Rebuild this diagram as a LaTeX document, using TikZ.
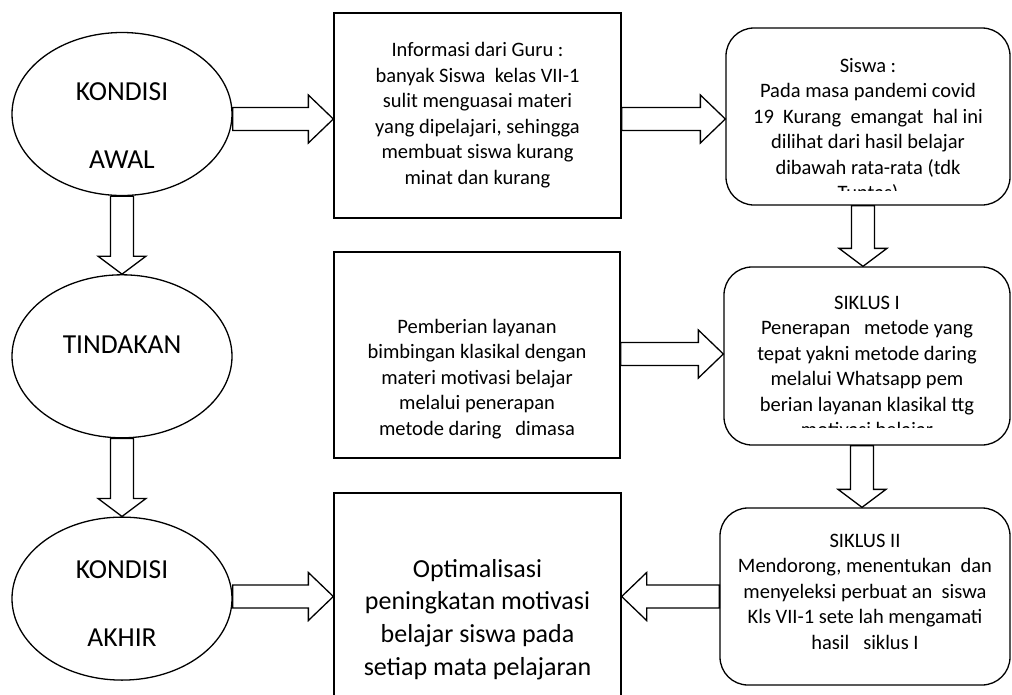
\documentclass[tikz,border=0pt]{standalone}
\usepackage{fontspec}
\setmainfont{Carlito}
\usetikzlibrary{positioning,calc,shapes.geometric}
\tikzset{%
  stage/.style={
    ellipse,
    draw,
    line width=1.3pt,
    minimum width=220pt,
    minimum height=163pt,
    inner sep=0pt
  },
  infobox/.style={rectangle, draw, line width=1.3pt, inner sep=0pt},
  cyclebox/.style={rectangle, rounded corners=28pt, draw, line width=1.3pt, inner sep=0pt},
  stagetext/.style={align=center, inner sep=0pt, font=\fontsize{27.5}{34}\selectfont},
  boxtext/.style={align=center, inner sep=0pt, font=\fontsize{20.5}{25.5}\selectfont},
  bigtext/.style={align=center, inner sep=0pt, font=\fontsize{26}{32.7}\selectfont},
  fatarrow/.style={draw, fill=white, line width=1.3pt, line join=miter},
}
% hollow block arrows, horizontal and vertical
\newcommand{\harrow}[2]{%
  \draw[fatarrow] let \p1=(#1), \p2=(#2), \n1={sign(\x2-\x1)*25pt} in
    ({\x1},{\y2+11.5pt}) -- ({\x2-1*\n1},{\y2+11.5pt}) -- ({\x2-1*\n1},{\y2+24pt}) -- (\p2)
    -- ({\x2-1*\n1},{\y2-24pt}) -- ({\x2-1*\n1},{\y2-11.5pt}) -- ({\x1},{\y2-11.5pt}) -- cycle;}
\newcommand{\varrow}[2]{%
  \draw[fatarrow] let \p1=(#1), \p2=(#2), \n1={sign(\y2-\y1)*18pt} in
    ({\x2-11.5pt},{\y1}) -- ({\x2-11.5pt},{\y2-1*\n1}) -- ({\x2-24pt},{\y2-1*\n1}) -- (\p2)
    -- ({\x2+24pt},{\y2-1*\n1}) -- ({\x2+11.5pt},{\y2-1*\n1}) -- ({\x2+11.5pt},{\y1}) -- cycle;}

\begin{document}
\begin{tikzpicture}[x=1pt,y=1pt,node distance=78pt]
  \useasboundingbox (0,0) rectangle (1012,-694);

  % left column
  \node[stage] (awal) at (122,-114) {};
  \node[stage,below=of awal] (tindakan) {};
  \node[stage,below=of tindakan] (akhir) {};

  \node[stagetext] (awaltxt) at ($(awal)+(0,-12)$) {KONDISI\\[34pt]AWAL};
  \node[stagetext] (tindakantxt) at ($(tindakan)+(0,12)$) {TINDAKAN};
  \node[stagetext] (akhirtxt) at ($(akhir)+(0,-5)$) {KONDISI\\[34pt]AKHIR};

  % middle column
  \node[infobox,minimum width=287pt,minimum height=205pt] (info) at (477.5,-115.5) {};
  \node[infobox,minimum width=286pt,minimum height=206pt] (pemberian) at (477,-355) {};
  \node[infobox,minimum width=287pt,minimum height=207pt] (optimal) at (477.5,-596.5) {};

  \node[boxtext] (infotxt) at ($(info)+(0,0.5)$) {Informasi dari Guru :\\
    banyak Siswa~ kelas VII-1\\ sulit menguasai materi\\ yang dipelajari, sehingga\\
    membuat siswa kurang\\ minat dan kurang};
  \node[boxtext] (pemberiantxt) at ($(pemberian)+(0,-24)$) {Pemberian layanan\\
    bimbingan klasikal dengan\\ materi motivasi belajar\\ melalui penerapan\\
    metode daring~~ dimasa};
  \node[bigtext] (optimaltxt) at ($(optimal)+(0,-23)$) {Optimalisasi\\
    peningkatan motivasi\\ belajar siswa pada\\ setiap mata pelajaran};

  % right column
  \node[cyclebox,minimum width=284pt,minimum height=177pt] (siswa) at (868,-116.5) {};
  \node[cyclebox,minimum width=286pt,minimum height=178pt] (siklus1) at (867,-356) {};
  \node[cyclebox,minimum width=290pt,minimum height=177pt] (siklus2) at (865,-596.5) {};

  \begin{scope}
    \clip (siswa.north west) rectangle ($(siswa.south east)+(0,15)$);
    \node[boxtext] (siswatxt) at ($(siswa)+(0,-14)$) {Siswa :\\
      Pada masa pandemi covid\\ 19~ Kurang~ emangat~ hal ini\\
      dilihat dari hasil belajar\\ dibawah rata-rata (tdk\\ Tuntas)};
  \end{scope}
  \begin{scope}
    \clip (siklus1.north west) rectangle ($(siklus1.south east)+(0,18)$);
    \node[boxtext] (siklus1txt) at ($(siklus1)+(0,-12)$) {SIKLUS I\\
      Penerapan~~ metode yang\\ tepat yakni metode daring\\
      melalui Whatsapp pem\\ berian layanan klasikal ttg\\ motivasi belajar};
  \end{scope}
  \node[boxtext] (siklus2txt) at ($(siklus2)+(0,5)$) {SIKLUS II\\
    Mendorong, menentukan~ dan\\ menyeleksi perbuat an~ siswa\\
    Kls VII-1 sete lah mengamati\\ hasil~~ siklus I};

  % connectors
  \harrow{awal.east}{$(info.west)+(0,-3.5)$}
  \harrow{info.east}{$(siswa.west)+(0,-2.5)$}
  \harrow{pemberian.east}{$(siklus1.west)+(0,2)$}
  \harrow{akhir.east}{optimal.west}
  \harrow{siklus2.west}{optimal.east}
  \varrow{awal.south}{tindakan.north}
  \varrow{tindakan.south}{akhir.north}
  \varrow{$(siswa.south)+(-4,0)$}{$(siklus1.north)+(-4,0)$}
  \varrow{$(siklus1.south)+(-3,0)$}{$(siklus2.north)+(-3,0)$}
\end{tikzpicture}
\end{document}
